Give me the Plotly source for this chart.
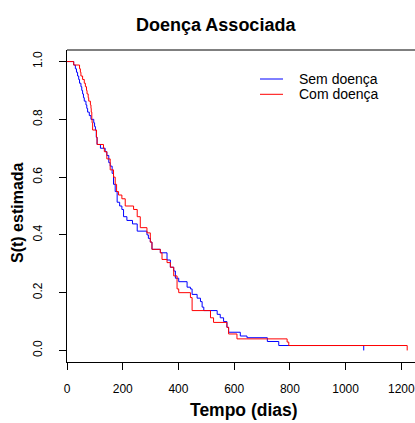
import plotly.graph_objects as go

# Kaplan-Meier estimates: event time (days) and survival right after each step
sem_tempo = [0, 24, 30, 34, 38, 42, 45, 50, 53, 56, 59, 62, 68, 71, 74, 80, 86, 96, 99, 102,
             105, 108, 120, 137, 143, 150, 155, 162, 167, 173, 180, 189, 197, 203, 215, 235,
             252, 287, 292, 299, 305, 335, 359, 371, 383, 389, 401, 431, 443, 449, 467, 479,
             485, 491, 539, 550, 562, 574, 580, 622, 646, 719, 760, 1065]
sem_surv = [1.0, 0.988, 0.975, 0.963, 0.950, 0.938, 0.925, 0.913, 0.900, 0.888, 0.875, 0.863,
            0.850, 0.838, 0.825, 0.813, 0.800, 0.788, 0.775, 0.763, 0.738, 0.713, 0.700, 0.688,
            0.675, 0.650, 0.638, 0.613, 0.575, 0.550, 0.513, 0.500, 0.488, 0.463, 0.450, 0.438,
            0.413, 0.400, 0.388, 0.375, 0.350, 0.338, 0.313, 0.288, 0.275, 0.250, 0.238, 0.219,
            0.213, 0.194, 0.181, 0.169, 0.150, 0.138, 0.125, 0.113, 0.100, 0.080, 0.063, 0.050,
            0.044, 0.031, 0.017, 0.0]

com_tempo = [0, 24, 45, 48, 50, 56, 62, 66, 70, 72, 76, 78, 84, 86, 87, 89, 90, 92, 106, 108,
             131, 134, 143, 155, 167, 173, 178, 185, 197, 209, 239, 252, 263, 287, 299, 305,
             335, 341, 359, 371, 383, 395, 401, 443, 449, 515, 526, 574, 580, 610, 790, 796, 1221]
com_surv = [1.0, 0.988, 0.975, 0.963, 0.950, 0.938, 0.925, 0.913, 0.900, 0.888, 0.875, 0.863,
            0.850, 0.838, 0.825, 0.800, 0.788, 0.763, 0.738, 0.713, 0.700, 0.688, 0.663, 0.625,
            0.600, 0.575, 0.550, 0.538, 0.525, 0.500, 0.488, 0.463, 0.425, 0.407, 0.375, 0.350,
            0.338, 0.315, 0.304, 0.288, 0.258, 0.213, 0.200, 0.183, 0.138, 0.113, 0.097, 0.080,
            0.057, 0.040, 0.029, 0.017, 0.0]

grupos = ["Sem doença", "Com doença"]
cores = ["#0000ff", "#ff0000"]

x_ticks = [0, 200, 400, 600, 800, 1000, 1200]
y_ticks = [0.0, 0.2, 0.4, 0.6, 0.8, 1.0]
y_tick_text = ["0.0", "0.2", "0.4", "0.6", "0.8", "1.0"]

FONT = "Liberation Sans, Arial, Helvetica, sans-serif"
W, H = 415, 423
L, R, T, B = 67, 0, 50, 61
PW, PH = W - L - R, H - T - B


def px(x):
    return (x - L) / PW


def py(y):
    return (H - B - y) / PH


fig = go.Figure()
for nome, cor, t, s in [(grupos[0], cores[0], sem_tempo, sem_surv),
                        (grupos[1], cores[1], com_tempo, com_surv)]:
    fig.add_trace(go.Scatter(x=t, y=s, mode="lines", name=nome,
                             line=dict(color=cor, width=1, shape="hv"),
                             showlegend=False))

axis_common = dict(showline=True, linecolor="#000000", linewidth=1, ticks="outside",
                   ticklen=7, tickwidth=1, tickcolor="#000000", showgrid=False,
                   zeroline=False, ticklabeloverflow="allow",
                   tickfont=dict(family=FONT, size=12, color="#000000"))

fig.update_layout(
    width=W, height=H,
    margin=dict(l=L, r=R, t=T, b=B, autoexpand=False),
    paper_bgcolor="white", plot_bgcolor="white",
    xaxis=dict(range=[0, 1249], tickvals=x_ticks, ticklabelstandoff=9, **axis_common),
    yaxis=dict(range=[-0.04, 1.04], tickvals=y_ticks, ticktext=y_tick_text,
               tickangle=-90, ticklabelstandoff=12, **axis_common),
)

# top frame line
fig.add_shape(type="line", xref="paper", yref="paper", x0=0, x1=1, y0=1, y1=1,
              line=dict(color="#000000", width=1))

# legend
for i, (nome, cor) in enumerate(zip(grupos, cores)):
    yy = 79 + i * 15.3
    fig.add_shape(type="line", xref="paper", yref="paper", x0=px(260), x1=px(283),
                  y0=py(yy), y1=py(yy), line=dict(color=cor, width=1))
    fig.add_annotation(xref="paper", yref="paper", x=px(297), y=py(yy), text=nome,
                       showarrow=False, xanchor="left", yanchor="middle",
                       font=dict(family=FONT, size=14, color="#000000"))

# titles
fig.add_annotation(xref="paper", yref="paper", x=px(216), y=py(25),
                   text="<b>Doença Associada</b>", showarrow=False,
                   xanchor="center", yanchor="middle",
                   font=dict(family=FONT, size=18, color="#000000"))
fig.add_annotation(xref="paper", yref="paper", x=px(244), y=py(410),
                   text="<b>Tempo (dias)</b>", showarrow=False,
                   xanchor="center", yanchor="middle",
                   font=dict(family=FONT, size=17.5, color="#000000"))
fig.add_annotation(xref="paper", yref="paper", x=px(18), y=py(213),
                   text="<b>S(t) estimada</b>", showarrow=False, textangle=-90,
                   xanchor="center", yanchor="middle",
                   font=dict(family=FONT, size=16, color="#000000"))

fig.write_html("out.html")
